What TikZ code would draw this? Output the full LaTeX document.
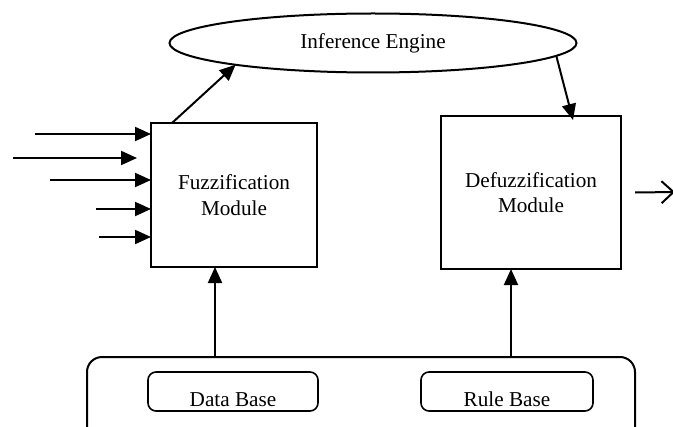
\documentclass[tikz,border=0pt]{standalone}
\usepackage{fontspec}
\setmainfont{Liberation Serif}
\usetikzlibrary{shapes.geometric,arrows.meta}

\begin{document}
\begin{tikzpicture}[x=0.5pt,y=-0.5pt, line width=1pt,
  every node/.style={font=\fontsize{10.6}{12.7}\selectfont, outer sep=0pt},
  module/.style={draw, minimum width=83pt, minimum height=72pt, align=center},
  base/.style={draw, line width=0.8pt, rounded corners=4pt, inner ysep=0pt,
    text height=17pt, text depth=2.5pt, minimum width=85pt},
  >={Triangle[length=8pt,width=7pt]}]
  \clip (0,0) rectangle (673,427);
  \node[draw, ellipse, minimum width=203.5pt, minimum height=29.5pt, inner sep=0pt] (ie) at (373,43) {Inference Engine};
  \node[module] (fuzz) at (234,195) {Fuzzification\\Module};
  \node[module, minimum width=90pt, minimum height=76.5pt] (defuzz) at (531,192.5) {Defuzzification\\Module};
  \node[draw, rounded corners=7.5pt, minimum width=274pt, minimum height=50pt] (kb) at (361,407) {};
  \node[base] (db) at (233,391.5) {Data Base};
  \node[base, minimum width=86pt] (rb) at (507,391.5) {Rule Base};

  % inputs
  \coordinate (in1) at (35,134);
  \coordinate (in2) at (13,158);
  \coordinate (in2e) at (137,158);
  \coordinate (in3) at (50,180);
  \coordinate (in4) at (96,209);
  \coordinate (in5) at (99,237);
  \foreach \i in {1,3,4,5}
    \draw[->] (in\i) -- (in\i -| fuzz.west);
  \draw[->] (in2) -- (in2e);

  \path[->]
  ([xshift=-31pt]fuzz.north) edge (ie.189)
  (ie.356) edge ([xshift=21pt,yshift=-2pt]defuzz.north);

  % output
  \coordinate (out) at (675,192);
  \draw[-{Straight Barb[length=6pt,width=11pt]}] ([xshift=7pt]defuzz.east) -- (out);

  % knowledge base
  \coordinate (fa) at ([xshift=-9.5pt]fuzz.south);
  \coordinate (da) at ([xshift=-10pt]defuzz.south);
  \draw[->] (fa |- kb.north) -- (fa);
  \draw[->] (da |- kb.north) -- (da);
\end{tikzpicture}
\end{document}
